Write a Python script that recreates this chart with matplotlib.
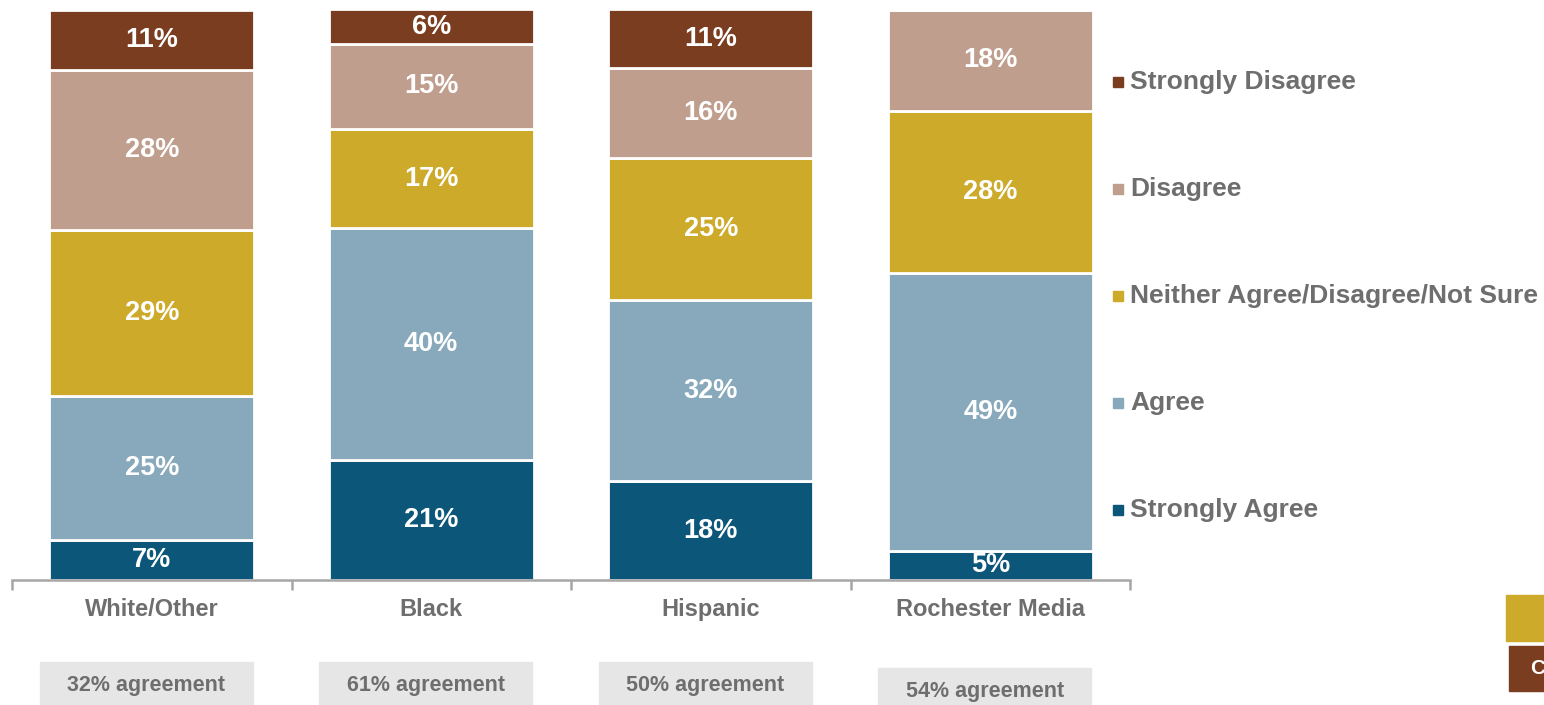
import matplotlib.pyplot as plt
import matplotlib.transforms as mtransforms
from matplotlib.patches import Rectangle
import numpy as np

plt.rcParams['font.family'] = ['Liberation Sans', 'DejaVu Sans']

# Data (bar heights, labels as printed)
groups = ['White/Other', 'Black', 'Hispanic', 'Rochester Media']
series = ['Strongly Agree', 'Agree', 'Neither Agree/Disagree/Not Sure',
          'Disagree', 'Strongly Disagree']
strongly_agree = [7.0, 21.0, 17.3, 5.1]
agree = [25.3, 40.7, 31.8, 48.8]
neither = [29.1, 17.4, 24.9, 28.4]
disagree = [28.1, 15.0, 15.8, 17.7]
strongly_disagree = [10.5, 6.0, 10.3, 6.0]

sa_labels = ['7%', '21%', '18%', '5%']
a_labels = ['25%', '40%', '32%', '49%']
n_labels = ['29%', '17%', '25%', '28%']
d_labels = ['28%', '15%', '16%', '18%']
sd_labels = ['11%', '6%', '11%', '6%']

agreement = ['32% agreement', '61% agreement', '50% agreement', '54% agreement']

colors = ['#0C5679', '#87A9BB', '#CDAA2A', '#BF9E8E', '#7A3D20']
grey = '#6E6E6E'

W, H = 1544, 705
fig = plt.figure(figsize=(W / 100, H / 100), dpi=100)
ax = fig.add_axes([12 / W, (H - 580) / H, 1118 / W, 570 / H])

x = np.arange(len(groups))
values = [strongly_agree, agree, neither, disagree, strongly_disagree]
labels = [sa_labels, a_labels, n_labels, d_labels, sd_labels]

bottom = np.zeros(len(groups))
for vals, labs, col, name in zip(values, labels, colors, series):
    vals = np.array(vals)
    ax.bar(x, vals, width=0.735, bottom=bottom, color=col,
           edgecolor='white', linewidth=2, label=name)
    for xi, b, v, lab in zip(x, bottom, vals, labs):
        # the segment running past the top is cut off, label only half shows
        yl = min(b + v / 2, 101.3)
        ax.text(xi, yl, lab, ha='center', va='center', color='white',
                fontsize=19.5, fontweight='bold', clip_on=False)
    bottom += vals

ax.set_xlim(-0.5, len(groups) - 0.5)
ax.set_ylim(0, 100)
for s in ['top', 'right', 'left']:
    ax.spines[s].set_visible(False)
ax.spines['bottom'].set_color('#A6A6A6')
ax.spines['bottom'].set_linewidth(1.8)
ax.set_yticks([])
ax.set_xticks(x)
ax.set_xticklabels(groups, fontsize=17, fontweight='bold', color=grey)
ax.tick_params(axis='x', which='major', length=0, pad=13)
ax.set_xticks(np.arange(-0.5, len(groups)), minor=True)
ax.tick_params(axis='x', which='minor', length=7, width=1.8, color='#A6A6A6')

# legend, top entry first
for i, k in enumerate(range(len(series) - 1, -1, -1)):
    yc = 1 - (82 + 107 * i) / H
    fig.patches.append(Rectangle((1113 / W, yc - 5 / H), 10 / W, 10 / H,
                                 transform=fig.transFigure, color=colors[k]))
    fig.text(1130 / W, yc, series[k], ha='left', va='center', color=grey,
             fontsize=19, fontweight='bold')

# agreement boxes under each group
trans = mtransforms.blended_transform_factory(ax.transData, fig.transFigure)
box_top = [662, 662, 662, 668]
for xi, txt, bt in zip(x, agreement, box_top):
    ax.add_patch(Rectangle((xi - 0.4, -0.05), 0.762, (H - bt) / H + 0.05,
                           transform=trans, color='#E6E6E6', clip_on=False))
    ax.text(xi - 0.019, (H - bt - 23) / H, txt, transform=trans, ha='center',
            va='center', fontsize=15.5, fontweight='bold', color=grey)

# cut-off boxes at the lower right
fig.patches.append(Rectangle((1506 / W, (H - 641) / H), 60 / W, 46 / H,
                             transform=fig.transFigure, color=colors[2]))
fig.patches.append(Rectangle((1509 / W, (H - 691) / H), 60 / W, 45 / H,
                             transform=fig.transFigure, color=colors[4]))
fig.text(1530 / W, (H - 668) / H, 'C', ha='left', va='center', color='white',
         fontsize=15, fontweight='bold')

fig.savefig('out.png', dpi=100)
